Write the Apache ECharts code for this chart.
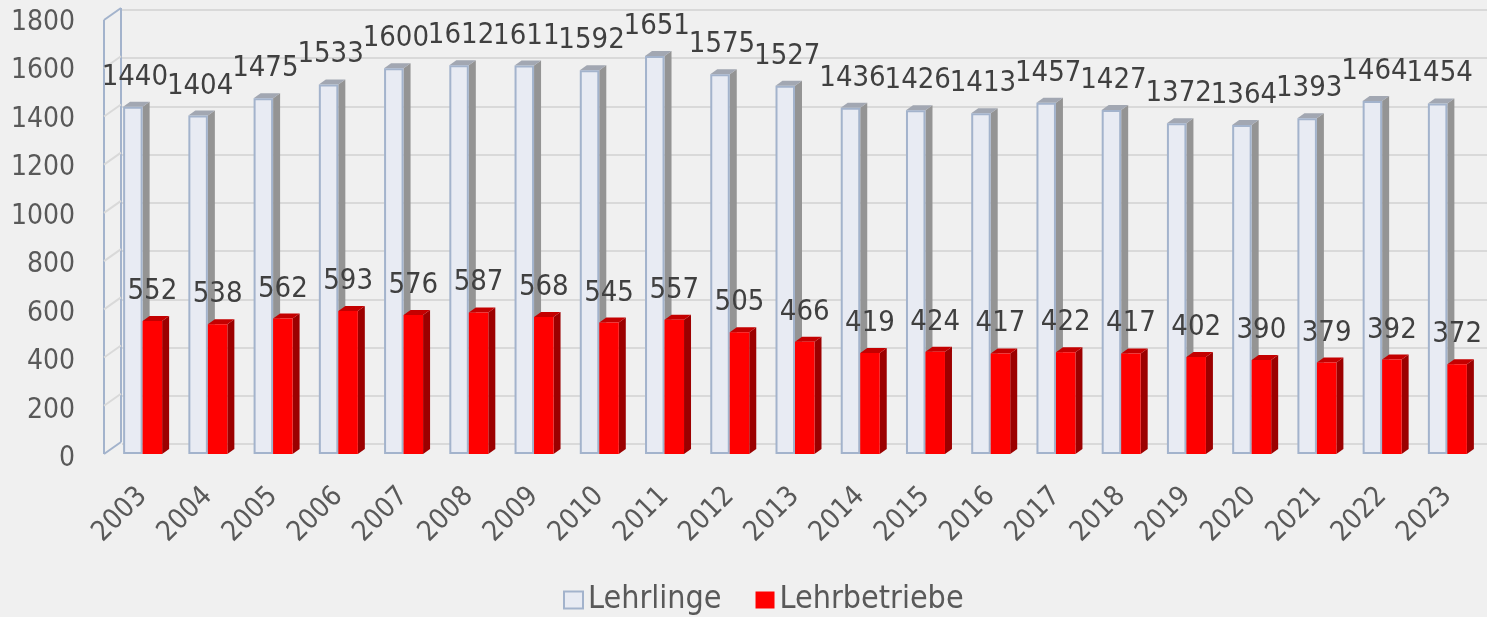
<!DOCTYPE html>
<html style="height: 100%">
  <head>
    <meta charset="utf-8" />
  </head>
  <body style="height: 100%; margin: 0; background: #f0f0f0">
    <div id="container" style="height: 100%"></div>

    <script
      type="text/javascript"
      src="https://cdn.jsdelivr.net/npm/echarts@6/dist/echarts.min.js"
    ></script>

    <script type="text/javascript">
      var years = ["2003", "2004", "2005", "2006", "2007", "2008", "2009", "2010", "2011", "2012", "2013",
        "2014", "2015", "2016", "2017", "2018", "2019", "2020", "2021", "2022", "2023"];
      var lehrlinge = [1440, 1404, 1475, 1533, 1600, 1612, 1611, 1592, 1651, 1575, 1527,
        1436, 1426, 1413, 1457, 1427, 1372, 1364, 1393, 1464, 1454];
      var lehrbetriebe = [552, 538, 562, 593, 576, 587, 568, 545, 557, 505, 466,
        419, 424, 417, 422, 417, 402, 390, 379, 392, 372];
      var yTicks = [0, 200, 400, 600, 800, 1000, 1200, 1400, 1600, 1800];

      var FONT = '"DejaVu Sans Condensed", "DejaVu Sans", sans-serif';
      var BAR_W = 19.5;
      var DX = 7, DY = 5;          // bar depth
      var WALL_DX = 17, WALL_DY = 12; // back wall offset

      var dom = document.getElementById("container");
      var myChart = echarts.init(dom);

      function pairs(arr) {
        return arr.map(function (v, i) { return [i, v]; });
      }

      // side + top faces of the 3d bars
      function depthRenderer(offset, sideColor, topColor) {
        return function (params, api) {
          var top = api.coord([api.value(0), api.value(1)]);
          var base = api.coord([api.value(0), 0]);
          var xl = top[0] + offset * BAR_W;
          var xr = xl + BAR_W;
          var yt = top[1], yb = base[1];
          return {
            type: "group",
            children: [
              {
                type: "polygon",
                shape: { points: [[xr, yt], [xr + DX, yt - DY], [xr + DX, yb - DY], [xr, yb]] },
                style: { fill: sideColor }
              },
              {
                type: "polygon",
                shape: { points: [[xl, yt], [xl + DX, yt - DY], [xr + DX, yt - DY], [xr, yt]] },
                style: { fill: topColor }
              }
            ]
          };
        };
      }

      // left wall of the 3d box
      function wallRenderer(params, api) {
        var cs = params.coordSys;
        var x0 = cs.x - 6;
        var p = api.coord([0, api.value(0)]);
        var edge = api.value(0) === 0 || api.value(0) === 1800;
        var children = [{
          type: "line",
          shape: { x1: x0, y1: p[1], x2: x0 + WALL_DX, y2: p[1] - WALL_DY },
          style: { stroke: edge ? "#a3b3cc" : "#d9d9d9", lineWidth: 2 }
        }];
        if (params.dataIndex === 0) {
          var t = api.coord([0, 1800]);
          children.push({
            type: "line",
            shape: { x1: x0, y1: p[1], x2: x0, y2: t[1] },
            style: { stroke: "#a3b3cc", lineWidth: 2 }
          });
          children.push({
            type: "line",
            shape: { x1: x0 + WALL_DX, y1: p[1] - WALL_DY, x2: x0 + WALL_DX, y2: t[1] - WALL_DY },
            style: { stroke: "#a3b3cc", lineWidth: 2 }
          });
        }
        return { type: "group", children: children };
      }

      var option = {
        backgroundColor: "#f0f0f0",
        animation: false,
        textStyle: { fontFamily: FONT },
        legend: {
          data: ["Lehrlinge", "Lehrbetriebe"],
          icon: "rect",
          left: 563,
          top: 584,
          padding: 0,
          itemWidth: 19,
          itemHeight: 17,
          itemGap: 34,
          textStyle: { fontFamily: FONT, fontSize: 32, color: "#595959" }
        },
        grid: [
          { left: 110, right: 7, top: 20, bottom: 163 },
          { left: 122, right: 0, top: 10, bottom: 173 },
          { left: 110, right: 7, top: 22.5, bottom: 158 }
        ],
        xAxis: [
          {
            type: "category",
            gridIndex: 0,
            data: years,
            axisLine: { show: false },
            axisTick: { show: false },
            axisLabel: {
              rotate: 45,
              margin: 38,
              fontFamily: FONT,
              fontSize: 28,
              color: "#595959",
              interval: 0
            }
          },
          { type: "value", gridIndex: 1, show: false, min: 0, max: 1 },
          { type: "value", gridIndex: 2, show: false, min: 0, max: 1 }
        ],
        yAxis: [
          {
            type: "value",
            gridIndex: 0,
            min: 0,
            max: 1800,
            interval: 200,
            splitLine: { show: false },
            axisLine: { show: false },
            axisTick: { show: false },
            axisLabel: { show: false }
          },
          {
            type: "value",
            gridIndex: 1,
            min: 0,
            max: 1800,
            interval: 200,
            axisLine: { show: false },
            axisTick: { show: false },
            axisLabel: { show: false },
            splitLine: { lineStyle: { color: "#d9d9d9", width: 2 } }
          },
          {
            type: "value",
            gridIndex: 2,
            min: 0,
            max: 1800,
            interval: 200,
            splitLine: { show: false },
            axisLine: { show: false },
            axisTick: { show: false },
            axisLabel: {
              margin: 35,
              fontFamily: FONT,
              fontSize: 28,
              color: "#595959",
              formatter: function (v) { return String(v); }
            }
          }
        ],
        series: [
          {
            name: "wall",
            type: "custom",
            xAxisIndex: 0,
            yAxisIndex: 0,
            z: 1,
            silent: true,
            renderItem: wallRenderer,
            encode: { y: 0 },
            data: yTicks.map(function (v) { return [v]; })
          },
          {
            name: "Lehrlinge-depth",
            type: "custom",
            xAxisIndex: 0,
            yAxisIndex: 0,
            z: 2,
            silent: true,
            renderItem: depthRenderer(-1, "#949494", "#a2a7b2"),
            encode: { x: 0, y: 1 },
            data: pairs(lehrlinge)
          },
          {
            name: "Lehrlinge",
            type: "bar",
            xAxisIndex: 0,
            yAxisIndex: 0,
            z: 3,
            barWidth: BAR_W,
            barGap: "0%",
            itemStyle: { color: "#e8ebf3", borderColor: "#a3b3cc", borderWidth: 2 },
            label: {
              show: true,
              position: "top",
              distance: 15,
              offset: [2, 0],
              fontFamily: FONT,
              fontSize: 29,
              color: "#404040"
            },
            data: lehrlinge
          },
          {
            name: "Lehrbetriebe-depth",
            type: "custom",
            xAxisIndex: 0,
            yAxisIndex: 0,
            z: 4,
            silent: true,
            renderItem: depthRenderer(0, "#9c0000", "#c40000"),
            encode: { x: 0, y: 1 },
            data: pairs(lehrbetriebe)
          },
          {
            name: "Lehrbetriebe",
            type: "bar",
            xAxisIndex: 0,
            yAxisIndex: 0,
            z: 5,
            barWidth: BAR_W,
            barGap: "0%",
            itemStyle: { color: "#ff0000" },
            label: {
              show: true,
              position: "top",
              distance: 15,
              fontFamily: FONT,
              fontSize: 29,
              color: "#404040"
            },
            data: lehrbetriebe
          }
        ]
      };

      option && myChart.setOption(option);
    </script>
  </body>
</html>
